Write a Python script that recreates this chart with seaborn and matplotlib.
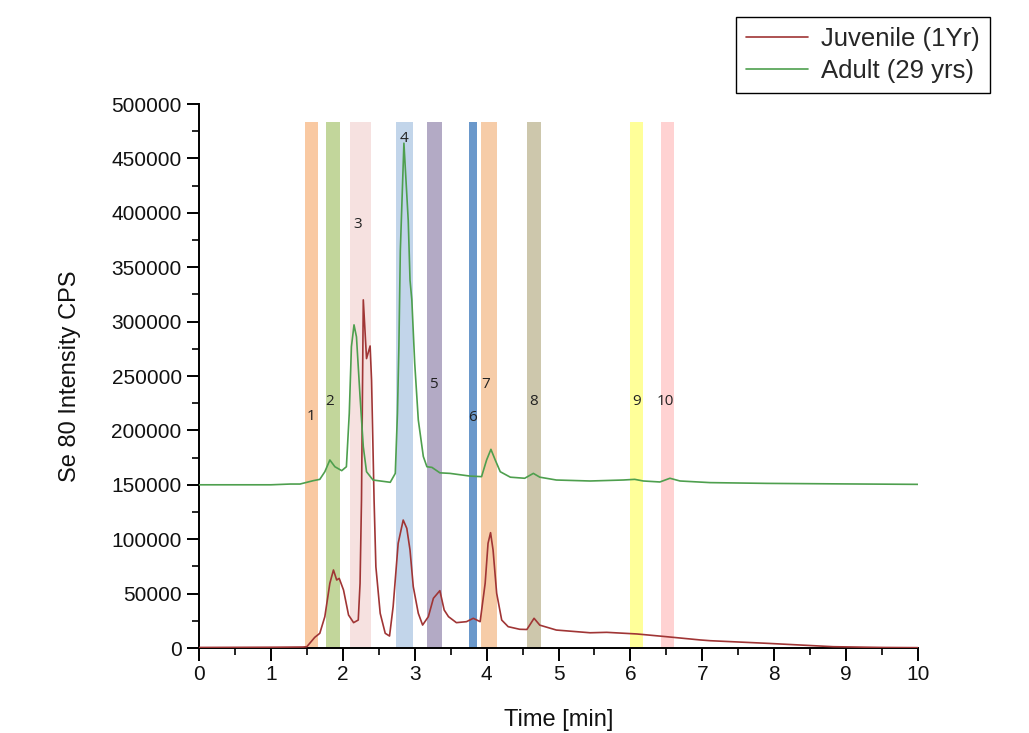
import matplotlib
matplotlib.use("Agg")
import matplotlib.pyplot as plt
from matplotlib.ticker import MultipleLocator, FuncFormatter
from matplotlib.lines import Line2D
import seaborn as sns
import pandas as pd

# ---- data ----
adult_t = [0, 1.0, 1.27, 1.405, 1.59, 1.68, 1.75, 1.82, 1.89, 1.985, 2.05, 2.09,
           2.12, 2.156, 2.19, 2.24, 2.285, 2.33, 2.42, 2.66, 2.73, 2.76, 2.78,
           2.80, 2.85, 2.91, 2.935, 2.96, 3.0, 3.05, 3.12, 3.17, 3.24, 3.35, 3.49,
           3.77, 3.93, 4.0, 4.06, 4.12, 4.19, 4.33, 4.53, 4.65, 4.74, 4.97, 5.44,
           5.90, 6.06, 6.18, 6.41, 6.55, 6.69, 7.11, 7.9, 9.0, 10.0]
adult_v = [150000, 150000, 150700, 150700, 153800, 155000, 162000, 172800, 166600,
           163000, 166600, 215700, 277000, 297000, 286000, 231000, 185000, 162000,
           154400, 152300, 160500, 215700, 277000, 365000, 464000, 393000, 338000,
           320000, 262000, 209600, 176000, 166600, 166000, 161000, 160500, 158000,
           157500, 172800, 182600, 172800, 162000, 157000, 156000, 160500, 157000,
           154400, 153500, 154400, 155000, 153500, 152600, 156000, 153500, 152000,
           151300, 150800, 150400]

juv_t = [0, 1.0, 1.45, 1.50, 1.61, 1.68, 1.75, 1.82, 1.87, 1.915, 1.95, 2.01,
         2.08, 2.15, 2.215, 2.24, 2.26, 2.285, 2.33, 2.38, 2.40, 2.435, 2.46,
         2.52, 2.59, 2.65, 2.70, 2.77, 2.84, 2.89, 2.935, 2.98, 3.05, 3.11, 3.19,
         3.26, 3.35, 3.41, 3.47, 3.58, 3.72, 3.815, 3.91, 3.98, 4.02, 4.055, 4.09,
         4.14, 4.21, 4.30, 4.46, 4.56, 4.66, 4.74, 4.97, 5.44, 5.67, 6.09, 6.50,
         6.97, 7.11, 7.9, 8.82, 9.5, 10.0]
juv_v = [500, 700, 900, 1200, 9800, 13500, 28800, 59500, 71700, 62500, 64000,
         53300, 30300, 23300, 25700, 59500, 136000, 320000, 266000, 277600, 246000,
         136000, 74700, 31900, 13500, 11000, 38000, 96200, 117600, 110000, 90000,
         56400, 31900, 21100, 28800, 45700, 52700, 34900, 28800, 23300, 24200,
         27300, 24200, 59500, 96200, 106000, 90000, 50300, 25700, 19600, 17200,
         17000, 27300, 21000, 16500, 14000, 14400, 12900, 10400, 7400, 6700, 4300,
         1200, 500, 300]

band_labels = ["1", "2", "3", "4", "5", "6", "7", "8", "9", "10"]
band_start = [1.47, 1.76, 2.10, 2.74, 3.17, 3.76, 3.92, 4.56, 6.00, 6.43]
band_end = [1.66, 1.96, 2.39, 2.97, 3.38, 3.87, 4.14, 4.76, 6.18, 6.60]
band_top = 483000
band_colors = ["#F9C9A2", "#C2D69B", "#F6E1E0", "#C2D5EA", "#B3AAC5",
               "#6A98CB", "#F6CCA8", "#CDC7AC", "#FFFF99", "#FFD2D2"]
label_t = [1.56, 1.82, 2.21, 2.85, 3.26, 3.80, 3.99, 4.65, 6.09, 6.49]
label_v = [213000, 227000, 389000, 468000, 242000, 212000, 242000, 227000, 227000, 227000]

series_names = ["Juvenile (1Yr)", "Adult (29 yrs)"]
series_colors = ["#A03535", "#4E9F4E"]

# ---- figure ----
sns.set_theme(style="ticks")
plt.rcParams["font.family"] = ["Liberation Sans", "DejaVu Sans"]

fig = plt.figure(figsize=(10.29, 7.33), dpi=100)
ax = fig.add_axes([199 / 1029, 1 - 648 / 733, (918 - 199) / 1029, (648 - 104) / 733])

# bands
widths = [e - s for s, e in zip(band_start, band_end)]
ax.bar(band_start, [band_top] * len(band_start), width=widths, align="edge",
       color=band_colors, edgecolor="none", zorder=1)
for lab, lt, lv in zip(band_labels, label_t, label_v):
    ax.text(lt, lv, lab, ha="center", va="center", fontsize=11,
            family=["Open Sans", "DejaVu Sans"], color="#222222", zorder=4)

df = pd.concat([
    pd.DataFrame({"Time": juv_t, "CPS": juv_v, "Sample": series_names[0]}),
    pd.DataFrame({"Time": adult_t, "CPS": adult_v, "Sample": series_names[1]}),
])
sns.lineplot(data=df, x="Time", y="CPS", hue="Sample", palette=series_colors,
             hue_order=series_names, linewidth=1.2, ax=ax, zorder=3, legend=False,
             sort=False)

ax.set_xlim(0, 10)
ax.set_ylim(0, 500000)
ax.xaxis.set_major_locator(MultipleLocator(1))
ax.xaxis.set_minor_locator(MultipleLocator(0.5))
ax.yaxis.set_major_locator(MultipleLocator(50000))
ax.yaxis.set_minor_locator(MultipleLocator(25000))
ax.tick_params(axis="both", which="major", length=9, width=1.4, direction="out",
               labelsize=15, color="black", labelcolor="#111111")
ax.tick_params(axis="both", which="minor", length=5, width=1.2, direction="out",
               color="black")
ax.xaxis.set_major_formatter(FuncFormatter(lambda v, p: f"{int(v)}"))
ax.yaxis.set_major_formatter(FuncFormatter(lambda v, p: f"{int(v)}"))
for s in ["top", "right"]:
    ax.spines[s].set_visible(False)
for s in ["left", "bottom"]:
    ax.spines[s].set_color("black")
    ax.spines[s].set_linewidth(1.4)

ax.set_xlabel("Time [min]", fontsize=17, color="#111111", labelpad=18)
ax.set_ylabel("Se 80 Intensity CPS", fontsize=17, color="#111111", labelpad=22)

handles = [Line2D([], [], color=c, lw=1.2) for c in series_colors]
leg = fig.legend(handles, series_names, loc="upper right",
                 bbox_to_anchor=(990 / 1029, 1 - 17 / 733), fontsize=18.5,
                 frameon=True, fancybox=False, edgecolor="black", framealpha=1,
                 handlelength=2.4, borderpad=0.4, labelspacing=0.3,
                 handletextpad=0.5, borderaxespad=0)
leg.get_frame().set_linewidth(1.0)

fig.savefig("out.png", dpi=100)
